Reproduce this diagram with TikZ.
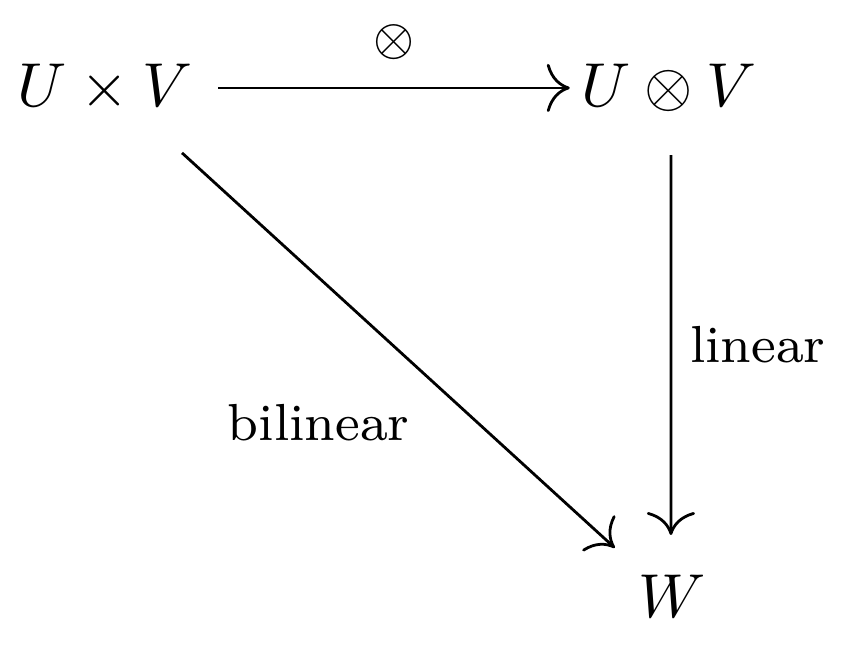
\documentclass[tikz,border=0pt]{standalone}
\usepackage{amsmath, amssymb}
\usepackage{tikz}
\usetikzlibrary{arrows.meta, positioning, calc}

\begin{document}
\begin{tikzpicture}[
    every node/.style={align=center},
    obj/.style={inner sep=0pt, font=\fontsize{9.6}{12}\selectfont},
    lbl/.style={inner sep=0pt, font=\fontsize{8.4}{10}\selectfont},
    arrow/.style={-{To[length=1.3mm]}, line width=0.45pt}
]
\useasboundingbox (0,0) rectangle (4.78,-3.652);

% Objects
\node (prod) [obj] at (0.595,-0.498) {$U \times V$};
\node (tens) [obj] at (3.787,-0.498) {$U \otimes V$};
\node (w) [obj] at (3.805,-3.38) {$W$};

% Maps
\draw [arrow] ($(prod)+(0.64,0)$) -- node [lbl, above=0.15cm] {$\otimes$} ($(tens)+(-0.56,0)$);
\draw [arrow] ($(tens)+(0.013,-0.38)$) -- node [lbl, right=0.1cm] {linear} ($(w)+(-0.005,0.35)$);
\draw [arrow] ($(prod)+(0.436,-0.368)$) -- node [lbl, anchor=north east, xshift=0.07cm, yshift=-0.3cm] {bilinear} ($(w)+(-0.323,0.277)$);

\end{tikzpicture}
\end{document}
